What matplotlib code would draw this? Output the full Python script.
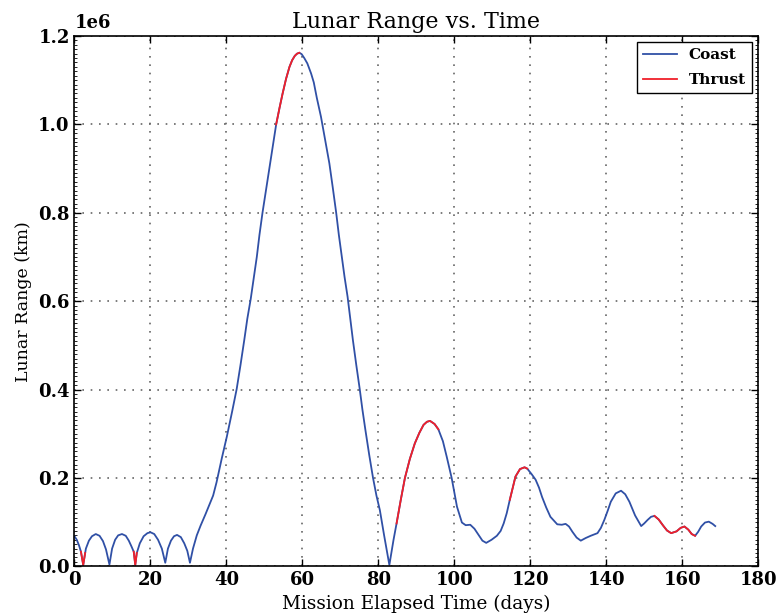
import numpy as np
import matplotlib
matplotlib.use('Agg')
import matplotlib.pyplot as plt
from matplotlib.ticker import AutoMinorLocator

# mission elapsed time (days) and lunar range (km)
time_days = [
    0.0, 0.6, 1.2, 1.7, 2.3, 2.8, 3.0, 3.8, 4.6, 5.6, 6.6, 7.5, 8.3, 9.2,
    9.9, 10.7, 11.5, 12.5, 13.5, 14.3, 15.0, 15.6, 16.0, 16.4,
    17.2, 18.2, 19.2, 20.0, 21.0, 22.0, 23.0, 23.9,
    24.6, 25.4, 26.2, 27.0, 28.0, 28.9, 29.7, 30.4,
    31.2, 32.2, 33.2, 34.5, 35.4, 36.5, 37.4, 38.1, 38.8, 40.1, 41.5, 42.7, 43.7,
    44.7, 45.5, 46.4, 47.2, 48.0, 48.7, 49.5, 50.4, 51.3, 52.2, 53.1, 54.0, 54.8,
    55.7, 56.6, 57.3, 58.0, 58.6, 59.2, 59.8, 60.5, 61.3, 62.3, 63.0, 63.8, 64.9,
    66.0, 67.1, 68.0, 68.9, 69.6, 70.4, 71.1, 71.9, 72.6, 73.3, 74.2, 75.1, 75.8,
    76.6, 77.6, 78.6, 79.5, 80.4, 81.5, 82.9, 84.0,
    84.8, 85.9, 87.0, 88.3, 89.6, 90.8, 91.9, 92.8, 93.6, 94.8, 95.8, 97.0,
    98.0, 99.3, 100.7, 102.0,
    103.0, 104.2, 105.3, 106.4, 107.4, 108.4, 109.8, 111.2, 112.2, 113.0,
    113.8, 114.6, 115.4, 116.1, 117.3, 118.5, 119.2, 120.4, 121.4, 122.3,
    123.1, 124.2, 125.3, 127.1, 128.3, 129.3, 130.2, 131.1, 132.2, 133.3,
    134.6, 135.9, 137.7, 138.6, 139.5, 140.4, 141.2, 142.5, 143.9, 145.0,
    146.1, 147.6, 149.2, 150.0, 150.9, 151.8, 152.7, 153.8, 154.9, 156.0,
    157.1, 158.5, 159.6, 160.6, 161.6, 162.5, 163.4, 164.2, 165.0, 166.0,
    167.0, 168.0, 168.7,
]
range_km = [
    68e3, 60e3, 47e3, 33e3, 3e3, 30e3, 40e3, 58e3, 68e3, 73e3, 69e3, 57e3, 38e3, 4e3,
    40e3, 60e3, 70e3, 73e3, 69e3, 58e3, 45e3, 33e3, 3e3, 30e3,
    52e3, 68e3, 75e3, 77e3, 73e3, 60e3, 40e3, 8e3,
    40e3, 58e3, 68e3, 71e3, 66e3, 52e3, 35e3, 8e3,
    40e3, 70e3, 92e3, 118e3, 137e3, 160e3, 190e3, 218e3, 245e3, 293e3, 350e3, 401e3, 455e3,
    512e3, 560e3, 605e3, 652e3, 700e3, 750e3, 800e3, 850e3, 900e3, 950e3, 1000e3, 1038e3, 1070e3,
    1103e3, 1130e3, 1145e3, 1155e3, 1160e3, 1162e3, 1159e3, 1150e3, 1138e3, 1115e3, 1095e3, 1060e3, 1017e3,
    965e3, 912e3, 857e3, 800e3, 750e3, 700e3, 655e3, 610e3, 560e3, 512e3, 455e3, 401e3, 355e3,
    308e3, 252e3, 200e3, 160e3, 127e3, 71e3, 3e3, 60e3,
    97e3, 150e3, 200e3, 243e3, 278e3, 302e3, 320e3, 327e3, 329e3, 322e3, 310e3, 283e3,
    248e3, 200e3, 135e3, 99e3,
    93e3, 94e3, 85e3, 71e3, 58e3, 53e3, 60e3, 69e3, 80e3, 97e3,
    120e3, 150e3, 178e3, 203e3, 220e3, 224e3, 221e3, 208e3, 196e3, 178e3,
    157e3, 133e3, 112e3, 95e3, 94e3, 96e3, 90e3, 78e3, 65e3, 58e3,
    64e3, 69e3, 75e3, 87e3, 105e3, 126e3, 146e3, 165e3, 171e3, 163e3,
    146e3, 115e3, 91e3, 97e3, 105e3, 112e3, 114e3, 106e3, 93e3, 81e3,
    75e3, 79e3, 87e3, 90e3, 83e3, 73e3, 69e3, 78e3, 90e3, 99e3,
    101e3, 96e3, 91e3,
]
# thrust arcs (start, end) in days
thrust_arcs = [(1.7, 2.8), (15.6, 16.4), (53.1, 59.2), (84.8, 95.8),
               (114.6, 119.2), (152.7, 163.4)]

t = np.array(time_days)
r = np.array(range_km)

plt.rcParams['font.family'] = 'DejaVu Serif'
fig = plt.figure(figsize=(7.8, 6.15), dpi=100)
ax = fig.add_axes([0.0955, 0.0792, 0.8765, 0.8623])

blue = '#3050A6'
red = '#F0202A'
ax.plot(t, r, color=blue, lw=1.3, label='Coast')
first = True
for t0, t1 in thrust_arcs:
    m = (t >= t0 - 1e-9) & (t <= t1 + 1e-9)
    ax.plot(t[m], r[m], color=red, lw=1.3, label='Thrust' if first else None)
    first = False

ax.set_xlim(0, 180)
ax.set_ylim(0, 1.2e6)
ax.set_xticks(np.arange(0, 181, 20))
ax.set_yticks(np.arange(0, 1.21e6, 0.2e6))
ax.yaxis.set_minor_locator(AutoMinorLocator(20))
ax.grid(True, color='0.4', linestyle=(0, (1, 4)), linewidth=1.2)
ax.tick_params(which='both', direction='in', top=True, right=True)
ax.tick_params(which='major', length=5, width=1, labelsize=13)
ax.tick_params(which='minor', length=2, width=0.6)
for lab in ax.get_xticklabels() + ax.get_yticklabels():
    lab.set_fontweight('bold')
ax.yaxis.OFFSETTEXTPAD = 6
ax.yaxis.get_offset_text().set_fontweight('bold')
ax.yaxis.get_offset_text().set_fontsize(13)
for s in ax.spines.values():
    s.set_linewidth(1.2)

ax.set_title('Lunar Range vs. Time', fontsize=16)
ax.set_xlabel('Mission Elapsed Time (days)', fontsize=13.3)
ax.set_ylabel('Lunar Range (km)', fontsize=12.5)
leg = ax.legend(loc='upper right', fancybox=False, framealpha=1,
                prop={'weight': 'bold', 'size': 11}, handlelength=2.2,
                labelspacing=0.7, borderaxespad=0.4)
leg.get_frame().set_edgecolor('k')

fig.savefig('out.png', dpi=100)
